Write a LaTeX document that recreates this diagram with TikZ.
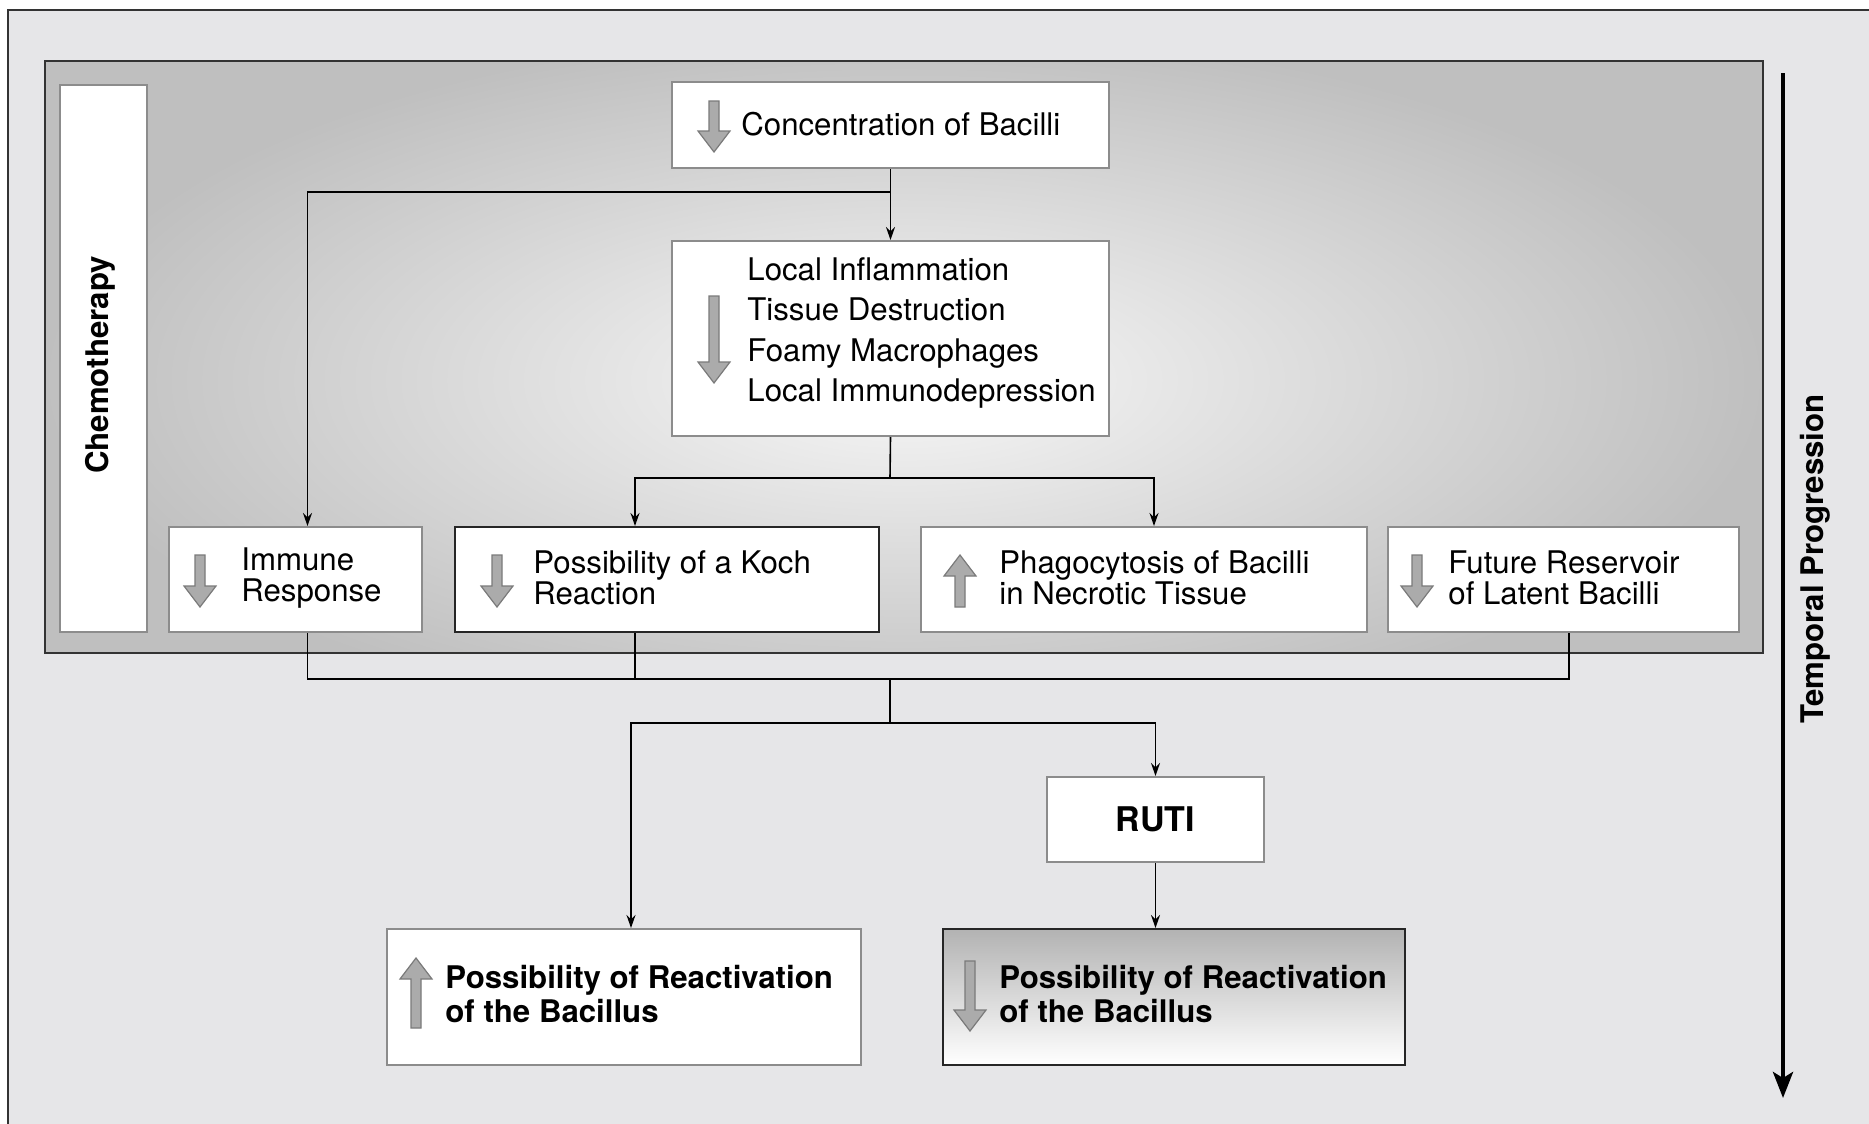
\documentclass[tikz,border=0pt]{standalone}
\usepackage{fontspec}
\setmainfont{TeX Gyre Heros}
\usetikzlibrary{arrows.meta}
\definecolor{pagegray}{HTML}{E6E6E8}
\definecolor{boxgray}{HTML}{8C8C8C}
\definecolor{arrfill}{HTML}{ABABAB}
\definecolor{arredge}{HTML}{7A7A7A}
\tikzset{
  box/.style={draw=boxgray, fill=white, line width=1pt, inner sep=0},
  lbl/.style={anchor=west, align=left, inner sep=0, font=\fontsize{15.6}{15.6}\selectfont},
  conn/.style={line width=0.8pt, -{Stealth[length=6.5pt,width=4.5pt]}},
  link/.style={line width=0.8pt},
  grayarr/.style={fill=arrfill, draw=arredge, line width=0.6pt}
}
% gray block arrows: tail/tip at (x,y), length
\def\arrdown(#1,#2)(#3){\draw[grayarr] (#1-5,#2) -- (#1+5,#2) -- (#1+5,#2+#3-21) -- (#1+16,#2+#3-21) -- (#1,#2+#3) -- (#1-16,#2+#3-21) -- (#1-5,#2+#3-21) -- cycle;}
\def\arrup(#1,#2)(#3){\draw[grayarr] (#1,#2) -- (#1+16,#2+21) -- (#1+5,#2+21) -- (#1+5,#2+#3) -- (#1-5,#2+#3) -- (#1-5,#2+21) -- (#1-16,#2+21) -- cycle;}

\begin{document}
\begin{tikzpicture}[x=0.5pt, y=-0.5pt]
		%%%%% FRAME %%%%%
		\useasboundingbox (0,0) rectangle (1869,1124);
		\fill[white] (0,0) rectangle (1869,1124);
		\clip (0,0) rectangle (1869,1124);
		\draw[fill=pagegray, line width=1.4pt, draw=black!80] (8,10) rectangle (1890,1140);
		
		% chemotherapy panel
		\begin{scope}
			\clip (45,61) rectangle (1763,653);
			\shade[inner color=white!97!black, outer color=black!25] (45,30) rectangle (1763,730);
		\end{scope}
		\draw[line width=1.2pt, draw=black!80] (45,61) rectangle (1763,653);
		
		\node[box, minimum width=43.5pt, minimum height=273.5pt] (chemo) at (103.5,358.5) {};
		\node[lbl, anchor=center, rotate=90, font=\fontsize{15.6}{15.6}\selectfont\bfseries] (chemo-t) at (100,365) {Chemotherapy};
		
		%%%%% BOXES %%%%%
		\node[box, minimum width=218.5pt, minimum height=43pt] (conc) at (890.5,125) {};
		\node[box, minimum width=218.5pt, minimum height=97.5pt] (inflam) at (890.5,338.5) {};
		\node[box, minimum width=126.5pt, minimum height=52.5pt] (immune) at (295.5,579.5) {};
		\node[box, draw=black!85, minimum width=212pt, minimum height=52.5pt] (koch) at (667,579.5) {};
		\node[box, minimum width=223pt, minimum height=52.5pt] (phago) at (1144,579.5) {};
		\node[box, minimum width=175.5pt, minimum height=52.5pt] (future) at (1563.5,579.5) {};
		\node[box, minimum width=108.5pt, minimum height=42.5pt, font=\fontsize{17}{17}\selectfont\bfseries] (ruti) at (1155.5,819.5) {RUTI};
		\node[box, minimum width=237pt, minimum height=68pt] (reactup) at (624,997) {};
		\node[box, draw=black!85, top color=black!30, bottom color=white, minimum width=231pt, minimum height=68pt] (reactdown) at (1174,997) {};
		
		%%%%% TEXTS %%%%%
		\node[lbl] (conc-t) at (741,124) {Concentration of Bacilli};
		\node[lbl, font=\fontsize{15.6}{20.3}\selectfont] (inflam-t) at (747,333) {Local Inflammation\\Tissue Destruction\\Foamy Macrophages\\Local Immunodepression};
		\node[lbl] (immune-t) at (241,578) {Immune\\Response};
		\node[lbl] (koch-t) at (533,578) {Possibility of a Koch\\Reaction};
		\node[lbl] (phago-t) at (999,578) {Phagocytosis of Bacilli\\in Necrotic Tissue};
		\node[lbl] (future-t) at (1448,578) {Future Reservoir\\of Latent Bacilli};
		\node[lbl, font=\fontsize{15.6}{16.7}\selectfont\bfseries] (reactup-t) at (445,994) {Possibility of Reactivation\\of the Bacillus};
		\node[lbl, font=\fontsize{15.6}{16.7}\selectfont\bfseries] (reactdown-t) at (999,994) {Possibility of Reactivation\\of the Bacillus};
		
		%%%%% GRAY ARROWS %%%%%
		\arrdown(714,101)(51)
		\arrdown(714,296)(87)
		\arrdown(200,555)(52)
		\arrdown(497,555)(52)
		\arrup(960,555)(52)
		\arrdown(1417,555)(52)
		\arrup(416,958)(70)
		\arrdown(970,961)(70)
		
		%%%%% CONNECTORS %%%%%
		\coordinate (split1) at (890,192);
		\coordinate (split2) at (890,478);
		\coordinate (merge) at (890,679);
		\coordinate (split3) at (890,723);
		\draw[conn] (conc.south) -- (inflam.north);
		\draw[conn] (split1) -| ([xshift=6pt]immune.north);
		\draw[link] (inflam.south) -- (split2);
		\draw[conn] (split2) -| ([xshift=-16pt]koch.north);
		\draw[conn] (split2) -| ([xshift=5pt]phago.north);
		\draw[link] ([xshift=6pt]immune.south) |- (merge);
		\draw[link] ([xshift=-16pt]koch.south) -- ([xshift=-16pt]koch.south |- merge);
		\draw[link] ([xshift=2.75pt]future.south) |- (merge);
		\draw[link] (merge) -- (split3);
		\draw[conn] (split3) -| ([xshift=3.5pt]reactup.north);
		\draw[conn] (split3) -| (ruti.north);
		\draw[conn] (ruti.south) -- (ruti.south |- reactdown.north);
		
		%%%%% TIME AXIS %%%%%
		\coordinate (time-top) at (1783,73);
		\coordinate (time-end) at (1783,1098);
		\draw[line width=2.2pt, -{Stealth[length=13pt,width=10pt,inset=3pt]}] (time-top) -- (time-end);
		\node[lbl, anchor=center, rotate=90, font=\fontsize{15.6}{15.6}\selectfont\bfseries] (time-t) at (1815,559) {Temporal Progression};
		
		%%%%% END %%%%%
\end{tikzpicture}
\end{document}
